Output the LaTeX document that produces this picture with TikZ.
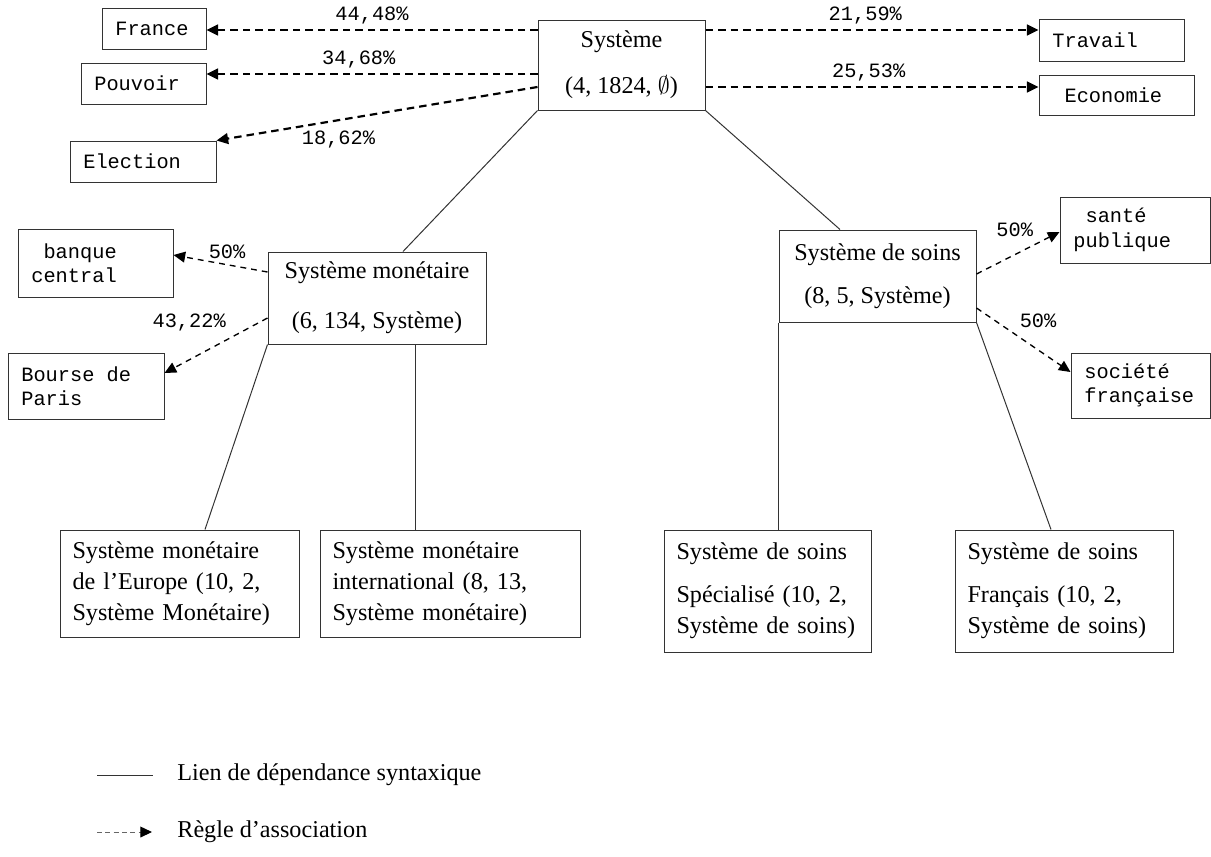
\documentclass[tikz,border=0pt]{standalone}
\usepackage{fontspec}
\setmainfont{Liberation Serif}
\setmonofont{Liberation Mono}[WordSpace={1,0,0}]
\usepackage{tikz}
\usetikzlibrary{arrows.meta}

\begin{document}
\begin{tikzpicture}[x=0.6pt,y=-0.6pt,>={Triangle[length=7pt,width=6.5pt,color=black]},
  conceptbox/.style={rectangle,draw=black!80,line width=0.6pt,inner xsep=7.5pt,inner ysep=0pt,font=\fontsize{14.5}{18.5}\selectfont},
  termbox/.style={rectangle,draw=black!80,line width=0.6pt,inner xsep=8pt,inner ysep=0pt,align=left,font=\fontsize{12.2}{14.6}\selectfont\ttfamily},
  legendtext/.style={font=\fontsize{14.5}{18.5}\selectfont,anchor=west},
  dep/.style={draw=black!80,line width=0.6pt},
  rulebold/.style={->,draw=black,line width=1.3pt,dash pattern=on 4.5pt off 3pt},
  rulethin/.style={->,draw=black,line width=0.8pt,dash pattern=on 3.5pt off 3pt},
  pct/.style={font=\fontsize{12.2}{14.6}\selectfont\ttfamily,inner sep=3pt}]
\useasboundingbox (0,0) rectangle (1211,856);

% concepts
\node[conceptbox,align=center,minimum width=100.2pt,minimum height=54pt] (sys) at (621.5,65) {Système\\[9pt](4, 1824, $\emptyset$)};
\node[conceptbox,align=center,minimum width=130.8pt,minimum height=55.2pt] (mon) at (377,298) {Système monétaire\\[11.5pt](6, 134, Système)};
\node[conceptbox,align=center,minimum width=118.2pt,minimum height=55.2pt] (soins) at (877.5,276) {Système de soins\\[7.3pt](8, 5, Système)};
\node[conceptbox,align=left,text width=128.4pt,minimum height=64.2pt] (europe) at (179.5,583.5) {Système monétaire\\de l'Europe (10, 2,\\Système Monétaire)};
\node[conceptbox,align=left,text width=141pt,minimum height=64.2pt] (intl) at (450,583.5) {Système monétaire\\international (8, 13,\\Système monétaire)};
\node[conceptbox,align=left,text width=109.2pt,minimum height=73.2pt] (spec) at (767.5,591) {Système de soins\\[7.3pt]Spécialisé (10, 2,\\Système de soins)};
\node[conceptbox,align=left,text width=115.8pt,minimum height=73.2pt] (fr) at (1064,591) {Système de soins\\[7.3pt]Français (10, 2,\\Système de soins)};

% associated terms
\node[termbox,text width=46.4pt,minimum height=24.6pt] (france) at (154,28.5) {France};
\node[termbox,text width=59pt,minimum height=24.6pt] (pouvoir) at (143.5,83.5) {Pouvoir};
\node[termbox,text width=71.6pt,minimum height=24.6pt] (election) at (143,161.5) {Election};
\node[termbox,text width=71pt,minimum height=25.2pt] (travail) at (1111.5,40) {Travail};
\node[termbox,text width=77pt,minimum height=24pt] (economie) at (1116.5,95) {\hspace*{0.6em}Economie};
\node[termbox,text width=77pt,minimum height=40.8pt] (banque) at (95.5,263) {\hspace*{0.6em}banque\\central};
\node[termbox,text width=77.6pt,minimum height=39.6pt] (bourse) at (86,386) {Bourse\hspace{0.6em}de\\Paris};
\node[termbox,text width=74pt,minimum height=39.6pt] (sante) at (1135,230) {\hspace*{0.6em}santé\\publique};
\node[termbox,text width=67.4pt,minimum height=39pt] (societe) at (1140.5,385.5) {société\\française};

% syntactic dependencies
\draw[dep] (sys.south west) -- (mon.north -| 403,0);
\draw[dep] (sys.south east) -- (soins.north -| 840,0);
\draw[dep] (mon.south west) -- (europe.north -| 205,0);
\draw[dep] (mon.south -| 415,0) -- (intl.north -| 415,0);
\draw[dep] (soins.south west) -- (spec.north -| soins.south west);
\draw[dep] (soins.south east) -- (fr.north -| 1051,0);

% association rules
\draw[rulebold] (sys.west |- 0,30) -- node[pct,above,midway]{44,48\%} (france.east |- 0,30);
\draw[rulebold] (sys.west |- 0,74) -- node[pct,above,pos=0.54]{34,68\%} (pouvoir.east |- 0,74);
\draw[rulebold] (sys.west |- 0,87) -- node[pct,below,pos=0.62,yshift=-3pt]{18,62\%} (election.north east);
\draw[rulebold] (sys.east |- 0,30) -- node[pct,above,pos=0.48]{21,59\%} (travail.west |- 0,30);
\draw[rulebold] (sys.east |- 0,87) -- node[pct,above,pos=0.49]{25,53\%} (economie.west |- 0,87);
\draw[rulethin] (mon.west |- 0,272) -- node[pct,above,pos=0.43]{50\%} (banque.east |- 0,255);
\draw[rulethin] (mon.west |- 0,318) -- node[pct,above left,pos=0.35]{43,22\%} (bourse.east |- 0,373);
\draw[rulethin] (soins.east |- 0,274) -- node[pct,above left,pos=0.75]{50\%} (sante.west |- 0,232);
\draw[rulethin] (soins.east |- 0,308) -- node[pct,above right,pos=0.4]{50\%} (societe.west |- 0,372);

% legend
\coordinate (depstart) at (97,775);
\coordinate (depend) at (153,775);
\coordinate (rulestart) at (97,832);
\coordinate (ruleend) at (152,832);
\draw[dep] (depstart) -- (depend);
\draw[->,draw=black!60,line width=0.6pt,dash pattern=on 3pt off 2pt] (rulestart) -- (ruleend);
\node[legendtext] (deplabel) at (171.5,775) {Lien de dépendance syntaxique};
\node[legendtext] (rulelabel) at (171.5,832) {Règle d'association};
\end{tikzpicture}
\end{document}
